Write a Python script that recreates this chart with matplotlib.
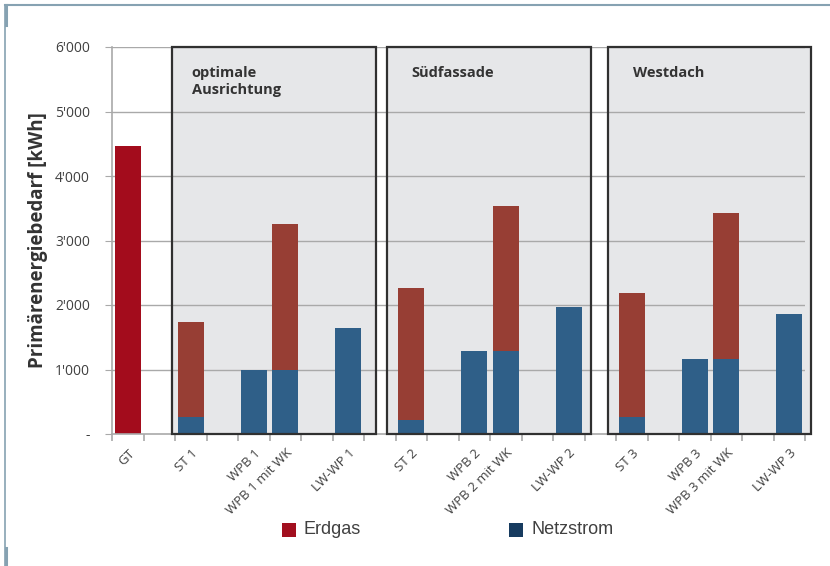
import matplotlib.pyplot as plt
from matplotlib.patches import Rectangle
from matplotlib.lines import Line2D


# slots along the category axis, "" = empty spacer slot
labels = ["GT", "", "ST 1", "", "WPB 1", "WPB 1 mit WK", "", "LW-WP 1",
          "", "ST 2", "", "WPB 2", "WPB 2 mit WK", "", "LW-WP 2",
          "", "ST 3", "", "WPB 3", "WPB 3 mit WK", "", "LW-WP 3"]

# primary energy in kWh per slot
netzstrom = [0, 0, 270, 0, 1000, 1000, 0, 1640,
             0, 220, 0, 1290, 1290, 0, 1970,
             0, 260, 0, 1170, 1170, 0, 1860]
erdgas = [4470, 0, 1470, 0, 0, 2250, 0, 0,
          0, 2050, 0, 0, 2240, 0, 0,
          0, 1920, 0, 0, 2250, 0, 0]

yticks = [0, 1000, 2000, 3000, 4000, 5000, 6000]
ytick_labels = ["-", "1'000", "2'000", "3'000", "4'000", "5'000", "6'000"]

# scenario groups: title, left, right (in slot units), title indent
groups = [("optimale\nAusrichtung", 1.41, 7.88, 0.62),
          ("Südfassade", 8.23, 14.70, 0.78),
          ("Westdach", 15.25, 21.69, 0.78)]

GT_RED = "#a30c1c"
GAS_RED = "#973e34"
NETZ_BLUE = "#2f5f88"
TXT = "#404040"
GRID = "#a9a9a9"

plt.rcParams['font.family'] = ['Open Sans', 'DejaVu Sans']

fig = plt.figure(figsize=(8.3, 5.66), dpi=100)
ax = fig.add_axes([112 / 830, 132 / 566, 693 / 830, 387 / 566])

x = list(range(len(labels)))
ax.set_xlim(-0.5, len(labels) - 0.5)
ax.set_ylim(0, 6000)

# grey scenario panels
for title, x0, x1, indent in groups:
    ax.add_patch(Rectangle((x0, 0), x1 - x0, 6000, facecolor="#e6e7e9",
                           edgecolor="none", zorder=0.5, clip_on=False))
    ax.add_patch(Rectangle((x0, 0), x1 - x0, 6000, facecolor="none",
                           edgecolor="#303030", lw=1.6, zorder=4, clip_on=False))
    ax.text(x0 + indent, 5700, title, ha="left", va="top", fontsize=10.5,
            fontweight="bold", color="#333333", linespacing=1.2, zorder=5)

for yv in yticks[1:]:
    ax.axhline(yv, color=GRID, lw=1.0, zorder=1)

gas_colors = [GT_RED if lab == "GT" else GAS_RED for lab in labels]
ax.bar(x, netzstrom, width=0.82, color=NETZ_BLUE, zorder=2)
ax.bar(x, erdgas, width=0.82, bottom=netzstrom, color=gas_colors, zorder=2)

for side in ["top", "right"]:
    ax.spines[side].set_visible(False)
for side in ["left", "bottom"]:
    ax.spines[side].set_color(GRID)
    ax.spines[side].set_linewidth(1.2)

ax.set_yticks(yticks)
ax.set_yticklabels(ytick_labels, fontsize=10, color=TXT)
ax.tick_params(axis="y", length=5, color=GRID, pad=11)

# category labels in the slot centres, tick marks on the slot borders
ax.set_xticks(x)
ax.set_xticklabels(labels, rotation=45, ha="right", rotation_mode="anchor",
                   fontsize=9.5, color=TXT)
ax.tick_params(axis="x", which="major", length=0, pad=9)
ax.set_xticks([i - 0.5 for i in range(len(labels) + 1)], minor=True)
ax.tick_params(axis="x", which="minor", length=5, color=GRID, width=1.2)

ax.set_ylabel("Primärenergiebedarf [kWh]", fontsize=13.5, fontweight="bold",
              color="#333333", labelpad=5)

# legend
fig.patches.append(Rectangle((282 / 830, 1 - 537 / 566), 14 / 830, 14 / 566,
                             transform=fig.transFigure, facecolor="#a20f1f",
                             edgecolor="none"))
fig.text(303 / 830, 1 - 530 / 566, "Erdgas", fontsize=13, color=TXT,
         va="center", family=["Liberation Sans", "DejaVu Sans"])
fig.patches.append(Rectangle((509 / 830, 1 - 537 / 566), 14 / 830, 14 / 566,
                             transform=fig.transFigure, facecolor="#173b5f",
                             edgecolor="none"))
fig.text(531 / 830, 1 - 530 / 566, "Netzstrom", fontsize=13, color=TXT,
         va="center", family=["Liberation Sans", "DejaVu Sans"])

# thin frame on top and left
frame = "#86a2b2"
fig.lines.append(Line2D([5 / 830, 1], [1 - 5 / 566] * 2, transform=fig.transFigure,
                        color=frame, lw=1.5))
fig.lines.append(Line2D([5 / 830] * 2, [0, 1 - 5 / 566], transform=fig.transFigure,
                        color=frame, lw=1.2))
fig.lines.append(Line2D([5.5 / 830] * 2, [1 - 5 / 566, 1 - 25 / 566],
                        transform=fig.transFigure, color=frame, lw=2.2))
fig.lines.append(Line2D([5.5 / 830] * 2, [0, 1 - 548 / 566],
                        transform=fig.transFigure, color=frame, lw=2.2))

fig.savefig("out.png", dpi=100)
